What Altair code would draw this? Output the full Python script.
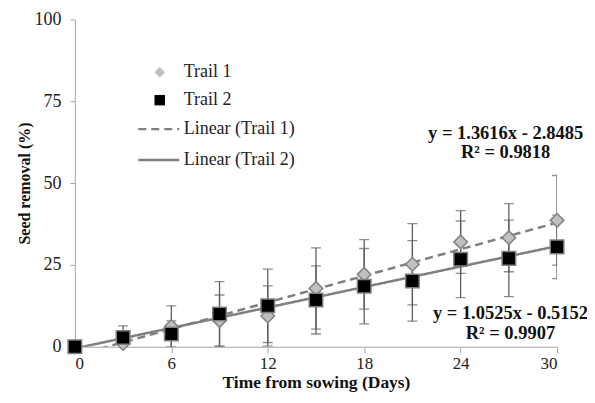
import altair as alt
import pandas as pd

days = [0, 3, 6, 9, 12, 15, 18, 21, 24, 27, 30]
trail1 = [0, 1.0, 6.2, 8.0, 9.4, 17.8, 22.1, 25.2, 32.0, 33.3, 38.6]
trail1_err = [0, 1.2, 6.3, 7.8, 9.2, 12.4, 10.6, 12.4, 9.6, 10.4, 13.7]
trail2 = [0, 2.8, 3.9, 10.0, 12.5, 14.3, 18.5, 20.1, 26.7, 27.0, 30.5]
trail2_err = [0, 3.6, 4.0, 9.9, 11.2, 10.4, 11.5, 12.3, 11.7, 11.7, 9.7]

series = ["Trail 1", "Trail 2"]
eq_text = ["y = 1.3616x - 2.8485", "R² = 0.9818", "y = 1.0525x - 0.5152", "R² = 0.9907"]
eq_x = [26.8, 26.8, 27.1, 27.1]
eq_y = [65.3, 59.5, 10.4, 4.3]

rows = []
for name, vals, errs in [("Trail 1", trail1, trail1_err), ("Trail 2", trail2, trail2_err)]:
    for d, v, e in zip(days, vals, errs):
        rows.append({"day": d, "value": v, "err": e, "low": v - e, "high": v + e, "trail": name})
df = pd.DataFrame(rows)
ann = pd.DataFrame({"x": eq_x, "y": eq_y, "text": eq_text})

FONT = "Liberation Serif"
GRID = "#a6a6a6"

xs = alt.X("day:Q", scale=alt.Scale(domain=[0, 30], nice=False),
           axis=alt.Axis(values=[0, 6, 12, 18, 24, 30], grid=False, domainColor=GRID, tickColor=GRID,
                         tickSize=6, labelFont=FONT, labelFontSize=17, labelColor="#222",
                         title="Time from sowing (Days)", titleFont=FONT, titleFontSize=17.5,
                         titleFontWeight="bold", titleColor="#111", labelPadding=3, titlePadding=2))
ys = alt.Y("value:Q", scale=alt.Scale(domain=[0, 100], nice=False),
           axis=alt.Axis(values=[0, 25, 50, 75, 100], grid=False, domainColor=GRID, tickColor=GRID,
                         tickSize=5, labelFont=FONT, labelFontSize=18, labelColor="#222",
                         title="Seed removal (%)", titleFont=FONT, titleFontSize=16,
                         titleFontWeight="bold", titleColor="#111", labelPadding=9, titlePadding=1))

base = alt.Chart(df)

point_legend = alt.Legend(orient="none", legendX=76, legendY=44, title=None, labelFont=FONT,
                          labelFontSize=18, labelColor="#222", padding=0, rowPadding=10,
                          labelOffset=15, symbolSize=110, symbolStrokeColor="#808080",
                          symbolStrokeWidth=1.5)

lines = base.transform_regression("day", "value", groupby=["trail"], extent=[0, 30]).transform_calculate(
    label="'Linear (' + datum.trail + ')'"
).mark_line(clip=True, color="#7f7f7f", strokeWidth=2.5).encode(
    x=xs, y=ys,
    strokeDash=alt.StrokeDash("label:N",
                              scale=alt.Scale(domain=["Linear (Trail 1)", "Linear (Trail 2)"],
                                              range=[[8, 5], [1, 0]]),
                              legend=alt.Legend(orient="none", legendX=62, legendY=88, title=None,
                                                labelFont=FONT, labelFontSize=18, labelColor="#222",
                                                padding=0, rowPadding=-22, labelOffset=3,
                                                symbolType="stroke", symbolSize=1681,
                                                symbolStrokeColor="#7f7f7f", symbolStrokeWidth=2.5))
)

eb = base.transform_filter("datum.err > 0")
rules = eb.mark_rule(color="#5f5f5f", strokeWidth=1.3, clip=True).encode(
    x="day:Q", y="low:Q", y2="high:Q")
caps_lo = eb.mark_tick(orient="horizontal", size=10, thickness=1.3, color="#5f5f5f", clip=True).encode(
    x="day:Q", y="low:Q")
caps_hi = eb.mark_tick(orient="horizontal", size=10, thickness=1.3, color="#5f5f5f", clip=True).encode(
    x="day:Q", y="high:Q")

points = base.mark_point(filled=True, size=185, stroke="#808080", strokeWidth=1.5, opacity=1).encode(
    x=xs, y=ys,
    shape=alt.Shape("trail:N", scale=alt.Scale(domain=series, range=["diamond", "square"]),
                    legend=point_legend),
    fill=alt.Fill("trail:N", scale=alt.Scale(domain=series, range=["#c0c0c0", "#000000"]),
                  legend=point_legend),
)

text = alt.Chart(ann).mark_text(font=FONT, fontSize=18.5, fontWeight="bold", color="#111",
                                align="center", baseline="middle").encode(
    x="x:Q", y="y:Q", text="text:N")

chart = alt.layer(lines, rules, caps_lo, caps_hi, points, text).properties(
    width=483, height=328,
    autosize=alt.AutoSizeParams(type="none"),
    padding={"left": 67, "top": 11, "right": 30, "bottom": 48},
).configure_view(stroke=None)

chart.save("out.html", embed_options={"renderer": "svg", "actions": False})
